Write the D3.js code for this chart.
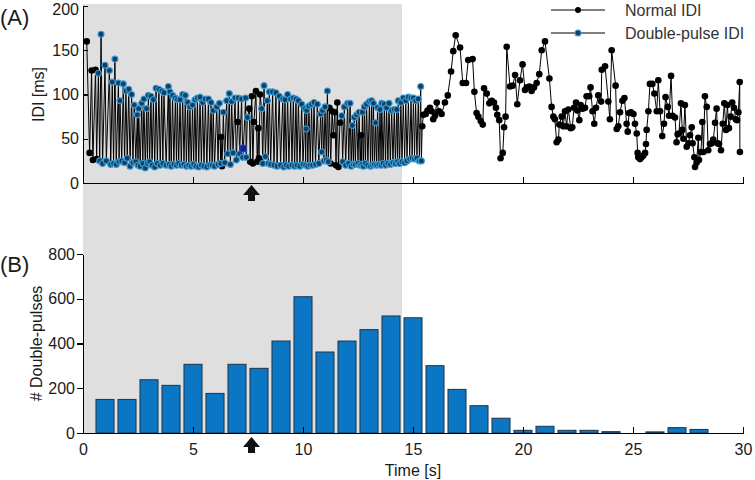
<!DOCTYPE html>
<meta charset="utf-8">
<style>
body { margin: 0; background: #fff; }
svg { font-family: 'Liberation Sans', Arial, sans-serif; }
.axis text { font-size: 16px; fill: #1a1a1a; }
.axis path, .axis line { stroke: #000; stroke-width: 1.2px; shape-rendering: crispEdges; }
.panel-label { font-size: 22px; fill: #1a1a1a; }
.axis-title { font-size: 16px; fill: #1a1a1a; text-anchor: middle; }
.legend text { font-size: 16px; fill: #333; }
.idi-line { fill: none; stroke: #000; stroke-width: 1px; }
.dot-normal { fill: #000; }
.dot-double { fill: #14405f; stroke: #3a9cd8; stroke-width: 1.1px; }
.bar { fill: #0b76c3; stroke: #1d3448; stroke-width: 1px; }
</style>
<body>
<svg width="755" height="480"></svg>
<script src="https://d3js.org/d3.v7.min.js"></script>
<script>
// IDI samples, [time s, IDI ms]
var normalIDI = [
  [0.17,160],[0.30,34],[0.39,127],[0.45,26],[0.57,128],[0.62,27],
  [6.27,52],[6.32,19],[7.03,69],
  [7.56,84],[7.60,24],[7.67,98],[7.72,22],[7.77,69],[7.86,104],[7.92,24],[7.97,62],[8.00,28],[8.05,100],
  [11.20,85],[11.26,22],[11.32,81],[11.38,54],[11.45,80],[11.50,20],[11.56,91],[11.61,18],[11.68,68],
  [12.64,54],
  [15.42,64],[15.47,77],[15.58,78],[15.66,82],[15.77,85],[15.85,81],[15.92,72],[16.00,76],[16.08,91],
  [16.18,81],[16.30,78],[16.45,91],[16.58,99],[16.73,126],[16.83,149],[16.94,167],[17.14,153],[17.26,113],
  [17.41,113],[17.51,139],[17.71,140],[17.79,103],[17.89,79],[17.97,75],[18.08,70],[18.17,66],[18.23,107],
  [18.35,101],[18.47,90],[18.58,93],[18.68,91],[18.77,85],[18.83,77],[18.92,71],[18.98,28],[19.08,34],
  [19.14,63],[19.21,75],[19.26,154],[19.41,109],[19.53,110],[19.64,122],[19.74,89],[19.86,116],[19.98,134],
  [20.09,105],[20.17,108],[20.29,109],[20.39,104],[20.50,108],[20.62,113],[20.74,123],[20.85,150],[21.00,160],
  [21.20,118],[21.30,86],[21.38,75],[21.45,72],[21.53,46],[21.61,49],[21.65,66],[21.76,75],[21.83,64],
  [21.91,81],[21.98,64],[22.06,83],[22.17,62],[22.24,63],[22.32,85],[22.41,91],[22.47,82],[22.56,71],
  [22.62,88],[22.71,84],[22.82,85],[22.89,98],[23.01,98],[23.07,108],[23.16,81],[23.24,67],[23.32,85],
  [23.42,99],[23.55,92],[23.58,128],[23.73,132],[23.88,92],[23.95,72],[24.03,150],[24.21,110],[24.26,61],
  [24.33,64],[24.41,80],[24.52,93],[24.61,96],[24.71,67],[24.76,58],[24.82,79],[24.91,80],[25.02,78],
  [25.09,67],[25.17,56],[25.21,34],[25.24,29],[25.32,27],[25.39,29],[25.47,31],[25.55,34],[25.59,44],
  [25.62,60],[25.70,81],[25.77,112],[25.88,112],[25.97,101],[26.08,81],[26.15,116],[26.23,81],[26.33,53],
  [26.41,67],[26.48,97],[26.58,86],[26.64,76],[26.73,121],[26.80,76],[26.91,74],[26.98,46],[27.03,55],
  [27.09,56],[27.18,90],[27.24,60],[27.29,50],[27.36,88],[27.44,41],[27.52,45],[27.59,54],[27.67,63],
  [27.71,45],[27.79,29],[27.82,18],[27.89,23],[27.97,51],[28.00,26],[28.09,35],[28.15,69],[28.20,35],
  [28.27,98],[28.35,86],[28.42,37],[28.50,44],[28.58,45],[28.65,49],[28.73,68],[28.80,84],[28.85,45],
  [28.91,44],[29.00,37],[29.08,67],[29.15,90],[29.23,60],[29.29,88],[29.36,62],[29.44,75],[29.51,91],
  [29.59,85],[29.67,72],[29.73,71],[29.79,80],[29.85,114],[29.86,35]
];

var doubleIDI = [
  [0.70,124],[0.76,25],[0.82,168],[0.89,22],[1.00,133],[1.06,25],[1.20,127],[1.26,21],[1.33,114],[1.39,22],
  [1.45,140],[1.51,21],[1.61,113],[1.64,24],[1.68,93],[1.76,25],[1.83,112],[1.89,23],[1.95,104],[2.01,28],
  [2.08,106],[2.14,19],[2.21,100],[2.27,23],[2.33,88],[2.40,24],[2.47,77],[2.50,20],[2.53,84],[2.60,19],
  [2.67,90],[2.72,22],[2.77,95],[2.83,17],[2.89,84],[2.93,22],[2.97,99],[3.03,24],[3.09,98],[3.14,20],
  [3.20,94],[3.26,18],[3.32,107],[3.38,22],[3.45,106],[3.51,20],[3.58,104],[3.63,22],[3.68,102],[3.78,20],
  [3.88,109],[3.92,21],[3.95,103],[4.01,19],[4.07,99],[4.13,21],[4.20,96],[4.25,20],[4.29,94],[4.35,22],
  [4.41,94],[4.47,20],[4.53,100],[4.59,21],[4.65,99],[4.70,19],[4.76,91],[4.81,20],[4.86,86],[4.92,19],
  [4.98,88],[5.03,21],[5.09,94],[5.14,19],[5.20,96],[5.26,18],[5.32,97],[5.38,20],[5.44,91],[5.50,19],
  [5.56,95],[5.63,18],[5.70,95],[5.76,20],[5.82,91],[5.87,20],[5.92,82],[5.98,19],[6.08,86],[6.14,21],
  [6.20,90],[6.26,22],[6.38,80],[6.44,23],[6.53,93],[6.58,33],[6.65,101],[6.70,21],[6.76,92],[6.82,34],
  [6.91,96],[6.97,26],[7.06,96],[7.12,33],[7.21,95],[7.26,29],[7.39,96],[7.42,29],[7.47,74],
  [8.12,84],[8.17,22],[8.23,110],[8.29,30],[8.38,93],[8.42,22],[8.47,103],[8.53,21],[8.62,103],[8.68,20],
  [8.77,102],[8.82,19],[8.92,98],[8.98,20],[9.08,95],[9.13,18],[9.18,94],[9.24,20],[9.30,100],[9.36,19],
  [9.44,95],[9.50,20],[9.56,96],[9.62,19],[9.68,95],[9.73,20],[9.79,93],[9.86,19],[9.94,89],[10.00,21],
  [10.09,84],[10.12,20],[10.14,61],[10.17,82],[10.22,19],[10.27,87],[10.33,20],[10.39,89],[10.44,20],
  [10.50,91],[10.57,21],[10.65,89],[10.72,22],[10.80,78],[10.85,35],[10.89,82],[10.95,25],[11.00,86],
  [11.06,26],[11.11,104],[11.15,24],
  [11.76,76],[11.80,24],[11.88,86],[11.94,20],[12.03,90],[12.08,22],[12.14,90],[12.19,19],[12.24,65],
  [12.29,21],[12.33,74],[12.38,21],[12.44,77],[12.50,22],[12.55,80],[12.60,20],[12.67,21],[12.70,80],
  [12.75,19],[12.79,86],[12.84,22],[12.89,89],[12.95,20],[13.02,92],[13.07,19],[13.12,93],[13.16,20],
  [13.20,90],[13.25,21],[13.30,68],[13.35,20],[13.39,85],[13.45,21],[13.50,83],[13.55,20],[13.58,90],
  [13.64,22],[13.70,89],[13.75,20],[13.80,85],[13.86,22],[13.91,90],[13.97,21],[14.03,82],[14.09,23],
  [14.15,83],[14.20,22],[14.26,83],[14.30,24],[14.33,93],[14.39,22],[14.45,91],[14.50,24],[14.56,96],
  [14.62,23],[14.67,93],[14.73,25],[14.79,97],[14.85,27],[14.91,96],[14.96,28],[15.02,96],[15.07,27],
  [15.12,93],[15.18,28],[15.24,95],[15.29,25],[15.35,109],[15.38,25]
];

// the single highlighted sample (square marker)
var markedIDI = [[7.29,39]];

// histogram of double-pulses per 1 s bin
var binCenters = [1,2,3,4,5,6,7,8,9,10,11,12,13,14,15,16,17,18,19,20,21,22,23,24,25,26,27,28];
var doublePulseCounts = [150,150,238,213,307,177,307,289,411,609,362,411,462,523,515,301,195,122,66,12,30,12,12,6,0,5,24,16];

var timeTicks = [0,5,10,15,20,25,30];
var idiTicks = [0,50,100,150,200];
var countTicks = [0,200,400,600,800];
var shadeEnd = 14.5;   // grey window, s
var arrowTime = 7.66;  // stimulus marker, s

var svg = d3.select("svg");

var x = d3.scaleLinear().domain([0, 30]).range([83, 743]);
var yTop = d3.scaleLinear().domain([0, 200]).range([183, 6]);
var yBot = d3.scaleLinear().domain([0, 800]).range([433, 254]);

// grey shaded window across both panels
svg.append("rect")
    .attr("x", x(0))
    .attr("y", 4)
    .attr("width", x(shadeEnd) - x(0))
    .attr("height", yBot(0) - 4)
    .attr("fill", "#dfdfdf");

// ---- panel A ----
var allIDI = normalIDI.map(function(d) { return {t: d[0], v: d[1]}; })
    .concat(doubleIDI.map(function(d) { return {t: d[0], v: d[1]}; }))
    .concat(markedIDI.map(function(d) { return {t: d[0], v: d[1]}; }))
    .sort(function(a, b) { return a.t - b.t; });

var line = d3.line()
    .x(function(d) { return x(d.t); })
    .y(function(d) { return yTop(d.v); });

svg.append("path")
    .datum(allIDI)
    .attr("class", "idi-line")
    .attr("d", line);

svg.append("g").selectAll("circle")
    .data(normalIDI)
  .enter().append("circle")
    .attr("class", "dot-normal")
    .attr("r", 3.3)
    .attr("cx", function(d) { return x(d[0]); })
    .attr("cy", function(d) { return yTop(d[1]); });

svg.append("g").selectAll("circle")
    .data(doubleIDI)
  .enter().append("circle")
    .attr("class", "dot-double")
    .attr("r", 3)
    .attr("cx", function(d) { return x(d[0]); })
    .attr("cy", function(d) { return yTop(d[1]); });

svg.append("g").selectAll("rect")
    .data(markedIDI)
  .enter().append("rect")
    .attr("x", function(d) { return x(d[0]) - 3.5; })
    .attr("y", function(d) { return yTop(d[1]) - 3.5; })
    .attr("width", 7)
    .attr("height", 7)
    .attr("fill", "#1c1c8a")
    .attr("stroke", "#3a6fd0")
    .attr("stroke-width", 0.8);

svg.append("g")
    .attr("class", "axis")
    .attr("transform", "translate(0," + yTop(0) + ")")
    .call(d3.axisBottom(x).tickValues(timeTicks.slice(1)).tickSizeInner(-6).tickSizeOuter(0).tickFormat(""));

var yTopAxis = svg.append("g")
    .attr("class", "axis")
    .attr("transform", "translate(" + x(0) + ",0)")
    .call(d3.axisLeft(yTop).tickValues(idiTicks).tickSizeInner(-5).tickSizeOuter(0).tickPadding(4));
// keep the top label inside the page
yTopAxis.selectAll(".tick text").filter(function(d) { return d === 200; }).attr("dy", "0.55em");

svg.append("text")
    .attr("class", "axis-title")
    .attr("transform", "translate(44," + yTop(100) + ") rotate(-90)")
    .text("IDI [ms]");

svg.append("text").attr("class", "panel-label").attr("x", 0).attr("y", 25).text("(A)");

// legend
var legend = svg.append("g").attr("class", "legend");
var legendItems = ["Normal IDI", "Double-pulse IDI"];
legendItems.forEach(function(name, i) {
  var ly = 10 + i * 23;
  legend.append("line")
      .attr("x1", 551).attr("x2", 605).attr("y1", ly).attr("y2", ly)
      .attr("stroke", "#000").attr("stroke-width", 1);
  legend.append("circle")
      .attr("class", i === 0 ? "dot-normal" : "dot-double")
      .attr("cx", 578).attr("cy", ly).attr("r", 3);
  legend.append("text")
      .attr("x", 625).attr("y", ly + 6)
      .text(name);
});

// ---- panel B ----
var bw = 0.41;
svg.append("g").selectAll("rect")
    .data(binCenters)
  .enter().append("rect")
    .attr("class", "bar")
    .attr("x", function(d) { return x(d - bw); })
    .attr("width", function(d) { return x(d + bw) - x(d - bw); })
    .attr("y", function(d, i) { return yBot(doublePulseCounts[i]); })
    .attr("height", function(d, i) { return yBot(0) - yBot(doublePulseCounts[i]); })
    .style("display", function(d, i) { return doublePulseCounts[i] > 0 ? null : "none"; });

svg.append("g")
    .attr("class", "axis")
    .attr("transform", "translate(0," + yBot(0) + ")")
    .call(d3.axisBottom(x).tickValues(timeTicks).tickSizeInner(-6).tickSizeOuter(0).tickPadding(11));

svg.append("g")
    .attr("class", "axis")
    .attr("transform", "translate(" + x(0) + ",0)")
    .call(d3.axisLeft(yBot).tickValues(countTicks).tickSizeInner(6).tickSizeOuter(0).tickPadding(2));

svg.append("text")
    .attr("class", "axis-title")
    .attr("transform", "translate(42," + yBot(400) + ") rotate(-90)")
    .text("# Double-pulses");

svg.append("text")
    .attr("class", "axis-title")
    .attr("x", x(15)).attr("y", 476)
    .text("Time [s]");

svg.append("text").attr("class", "panel-label").attr("x", 0).attr("y", 272).text("(B)");

// arrows marking stimulus time
var arrowPath = "M0,0L8.5,10L3.5,10L3.5,16L-3.5,16L-3.5,10L-8.5,10Z";
[185, 437].forEach(function(ty) {
  svg.append("path")
      .attr("d", arrowPath)
      .attr("transform", "translate(" + x(arrowTime) + "," + ty + ")")
      .attr("fill", "#111");
});
</script>
